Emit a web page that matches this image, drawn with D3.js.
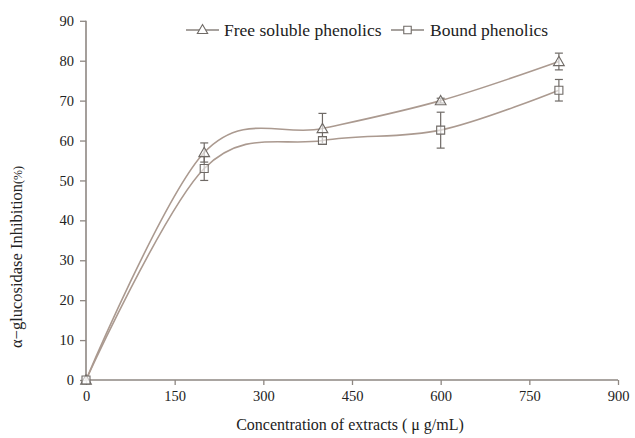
<!DOCTYPE html>
<html><head><meta charset="utf-8">
<script src="https://cdn.jsdelivr.net/npm/d3@7"></script>
<style>body{margin:0;background:#fff}svg{display:block}</style>
</head><body>
<svg id="c" width="635" height="438"></svg>
<script>
const concentrations = [0, 200, 400, 600, 800];
const freeValues = [0, 57, 63, 70, 79.8];
const freeErrors = [0, 2.4, 3.8, 0.6, 2.1];
const boundValues = [0, 53, 60, 62.6, 72.6];
const boundErrors = [0, 3, 0.8, 4.5, 2.7];
const xTicks = [0, 150, 300, 450, 600, 750, 900];
const yTicks = [0, 10, 20, 30, 40, 50, 60, 70, 80, 90];
const seriesNames = ["Free soluble phenolics", "Bound phenolics"];

const FONT = "Liberation Serif, Times New Roman, serif";
const svg = d3.select("#c");
const x = d3.scaleLinear().domain([0, 900]).range([86, 618]);
const y = d3.scaleLinear().domain([0, 90]).range([380, 20.8]);
const axisColor = "#8e8782", lineColor = "#ab9a90", markColor = "#6f6a66";

function txt(sel, size) {
  return sel.attr("font-family", FONT).attr("font-size", size).attr("fill", "#222");
}

const gx = svg.append("g").attr("transform", "translate(0,380)")
  .call(d3.axisBottom(x).tickValues(xTicks).tickSize(5).tickPadding(6));
const gy = svg.append("g").attr("transform", "translate(86,0)")
  .call(d3.axisLeft(y).tickValues(yTicks).tickSize(6).tickPadding(6));
[gx, gy].forEach(g => {
  g.attr("font-family", FONT).attr("font-size", 14.5);
  g.select(".domain").attr("stroke", axisColor).attr("stroke-width", 1.6);
  g.selectAll(".tick line").attr("stroke", axisColor).attr("stroke-width", 1.3);
  g.selectAll(".tick text").attr("fill", "#222");
});
gx.select(".domain").attr("d", "M86,0H618");
gy.select(".domain").attr("d", "M0,380V20.8");

txt(svg.append("text").attr("x", 350).attr("y", 430).attr("text-anchor", "middle"), 16)
  .text("Concentration of extracts ( μ g/mL)");
const yl = txt(svg.append("text").attr("transform", "translate(22,257) rotate(-90)").attr("text-anchor", "middle"), 16.5);
yl.append("tspan").text("α−glucosidase Inhibition");
yl.append("tspan").attr("font-size", 12).text("(%)");

const series = [
  {vals: freeValues, errs: freeErrors, shape: d3.symbolTriangle},
  {vals: boundValues, errs: boundErrors, shape: d3.symbolSquare}
];
const line = d3.line().x((d, i) => x(concentrations[i])).y(d => y(d)).curve(d3.curveCardinal.tension(0));

series.forEach(s => {
  svg.append("path").attr("d", line(s.vals)).attr("fill", "none")
    .attr("stroke", lineColor).attr("stroke-width", 1.6);
});
series.forEach(s => {
  const g = svg.append("g");
  s.vals.forEach((v, i) => {
    const cx = x(concentrations[i]), e = s.errs[i];
    if (e > 0) {
      g.append("line").attr("x1", cx).attr("x2", cx).attr("y1", y(v + e)).attr("y2", y(v - e)).attr("stroke", markColor).attr("stroke-width", 1.2);
      [v + e, v - e].forEach(t => g.append("line").attr("x1", cx - 4).attr("x2", cx + 4).attr("y1", y(t)).attr("y2", y(t)).attr("stroke", markColor).attr("stroke-width", 1.2));
    }
    g.append("path").attr("d", d3.symbol().type(s.shape).size(s.shape === d3.symbolSquare ? 64 : 50)())
      .attr("transform", `translate(${cx},${y(v) + (s.shape === d3.symbolTriangle ? 1 : 0)})`)
      .attr("fill", "rgba(255,255,255,0.6)").attr("stroke", markColor).attr("stroke-width", 1.1);
  });
});

const legendItems = [
  {x1: 186, x2: 219, tx: 224, shape: d3.symbolTriangle, name: seriesNames[0]},
  {x1: 391, x2: 424, tx: 430, shape: d3.symbolSquare, name: seriesNames[1]}
];
legendItems.forEach(l => {
  svg.append("line").attr("x1", l.x1).attr("x2", l.x2).attr("y1", 30).attr("y2", 30).attr("stroke", "#8a837e").attr("stroke-width", 1.4);
  svg.append("path").attr("d", d3.symbol().type(l.shape).size(l.shape === d3.symbolSquare ? 56 : 46)())
    .attr("transform", `translate(${(l.x1 + l.x2) / 2},${30 + (l.shape === d3.symbolTriangle ? 0.5 : 0)})`)
    .attr("fill", "#fff").attr("stroke", markColor).attr("stroke-width", 1.1);
  txt(svg.append("text").attr("x", l.tx).attr("y", 35.5), 17.5).text(l.name);
});
</script>
</body></html>
